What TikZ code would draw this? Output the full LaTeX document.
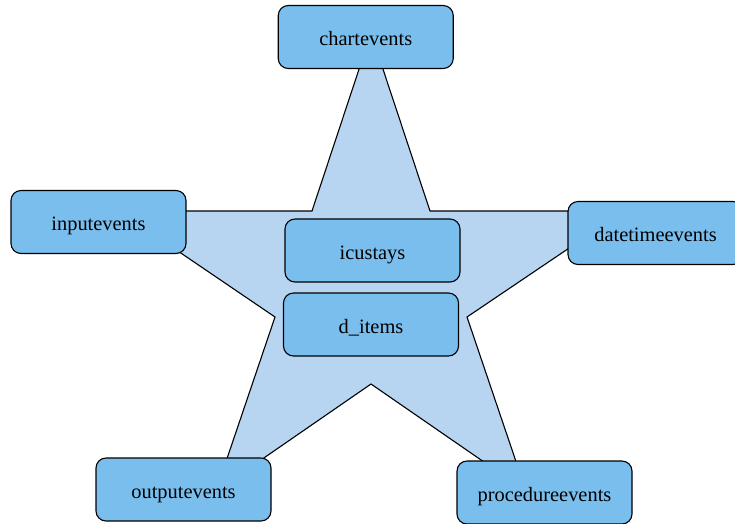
\documentclass[tikz,border=0pt]{standalone}
\usepackage{fontspec}
\setmainfont{Liberation Serif}
\definecolor{starfill}{RGB}{183,212,240}
\definecolor{boxfill}{RGB}{122,190,238}
\begin{document}
\begin{tikzpicture}[x=1pt,y=-1pt,
  tablebox/.style={draw=black, fill=boxfill, line width=1.1pt, rounded corners=10pt,
    minimum width=175pt, minimum height=63pt, inner sep=0pt,
    text height=18pt, text depth=0.4pt,
    font=\fontsize{20.4}{24}\selectfont},
  starshape/.style={draw=black, fill=starfill, line width=1.1pt, line join=miter}]
\useasboundingbox (0,0) rectangle (735,523);
\clip (0,0) rectangle (735,523);

% five-pointed star behind the tables
\coordinate (s1) at (371,33);
\coordinate (s2) at (430,211);
\coordinate (s3) at (624,211);
\coordinate (s4) at (467,317);
\coordinate (s5) at (526,491);
\coordinate (s6) at (371,384);
\coordinate (s7) at (216,491);
\coordinate (s8) at (275,317);
\coordinate (s9) at (119,211);
\coordinate (s10) at (312,211);
\path[starshape] (s1) -- (s2) -- (s3) -- (s4) -- (s5) -- (s6) -- (s7) -- (s8) -- (s9) -- (s10) -- cycle;

% tables
\node[tablebox] (chart) at (365.75,37) {chartevents};
\node[tablebox] (input) at (98.5,222) {inputevents};
\node[tablebox] (datetime) at (655.5,233) {datetimeevents};
\node[tablebox] (output) at (183.5,489.5) {outputevents};
\node[tablebox] (procedure) at (544.5,492.5) {procedureevents};
\node[tablebox] (icustays) at (372.5,250.5) {icustays};
\node[tablebox] (ditems) at (371,324.5) {d\_items};
\end{tikzpicture}
\end{document}
